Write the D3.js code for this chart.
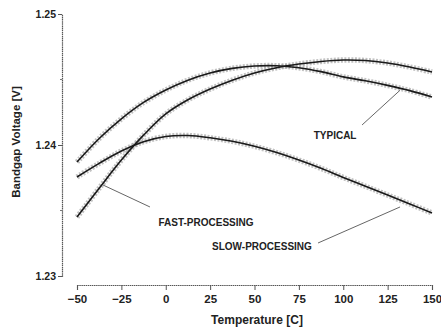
<!DOCTYPE html>
<html><head><meta charset="utf-8">
<script src="https://cdn.jsdelivr.net/npm/d3@7"></script>
<style>body{margin:0;background:#fff}svg{display:block}</style>
</head><body>
<svg id="c" width="441" height="330"></svg>
<script>
// ---- data ----
const temps = [-50, -37.5, -25, -12.5, 0, 12.5, 25, 37.5, 50, 62.5, 75, 87.5, 100, 112.5, 125, 137.5, 150];
const typical = [1.23870, 1.24050, 1.24200, 1.24325, 1.24420, 1.24495, 1.24550, 1.24585, 1.24603, 1.24605, 1.24590, 1.24560, 1.24520, 1.24490, 1.24455, 1.24415, 1.24366];
const fast    = [1.23450, 1.23670, 1.23885, 1.24075, 1.24237, 1.24345, 1.24427, 1.24495, 1.24550, 1.24590, 1.24618, 1.24638, 1.24649, 1.24645, 1.24626, 1.24595, 1.24557];
const slow    = [1.23756, 1.23860, 1.23954, 1.24025, 1.24065, 1.24072, 1.24055, 1.24028, 1.23990, 1.23942, 1.23885, 1.23822, 1.23752, 1.23685, 1.23618, 1.23550, 1.23481];
const xTicks = [-50, -25, 0, 25, 50, 75, 100, 125, 150];
const yTicks = [1.23, 1.24, 1.25];
const yMinor = [1.235, 1.245];
const labels = ["TYPICAL", "FAST-PROCESSING", "SLOW-PROCESSING"];
// annotation anchors in data units: [text T, text V, leader from T, V, leader tip T, V]
const annTypical = [95.4, 1.24076, 110.6, 1.24153, 132, 1.24418];
const annFast    = [22.7, 1.23412, -8.9, 1.23527, -35.4, 1.23695];
const annSlow    = [54.2, 1.23229, 85.8, 1.23252, 132, 1.23527];

// ---- chart ----
const svg = d3.select("#c");
const x = d3.scaleLinear().domain([-50, 150]).range([77, 432]);
const y = d3.scaleLinear().domain([1.23, 1.25]).range([276, 14]);
const font = "'Liberation Sans', Arial, sans-serif";

// y axis
const yAxisX = 62;
const gy = svg.append("g").attr("transform", `translate(${yAxisX},0)`)
  .call(d3.axisLeft(y).tickValues(yTicks).tickFormat(d3.format(".2f")).tickSize(4).tickPadding(2));
gy.select(".domain").attr("stroke", "#555").attr("stroke-width", 1.2).attr("stroke-dasharray", "1.5,0.6");
gy.selectAll(".tick line").attr("stroke", "#555");
gy.selectAll(".tick text").attr("font-family", font).attr("font-size", 10.5).attr("font-weight", "bold").attr("fill", "#222");
svg.append("g").selectAll("line").data(yMinor).join("line")
  .attr("x1", yAxisX - 2).attr("x2", yAxisX).attr("y1", d => y(d)).attr("y2", d => y(d))
  .attr("stroke", "#777");

// x axis
const xAxisY = 285;
const gx = svg.append("g").attr("transform", `translate(0,${xAxisY})`)
  .call(d3.axisBottom(x).tickValues(xTicks).tickFormat(d => d < 0 ? "\u2212" + Math.abs(d) : d).tickSize(5).tickPadding(5));
gx.select(".domain").attr("stroke", "#555").attr("stroke-width", 1.2).attr("stroke-dasharray", "1.5,0.6");
gx.selectAll(".tick line").attr("stroke", "#555");
gx.selectAll(".tick text").attr("font-family", font).attr("font-size", 11.5).attr("font-weight", "bold").attr("fill", "#222");

// titles
svg.append("text").attr("x", 257).attr("y", 324).attr("text-anchor", "middle")
  .attr("font-family", font).attr("font-size", 12).attr("font-weight", "bold").attr("fill", "#222")
  .text("Temperature [C]");
svg.append("text").attr("transform", "translate(20,142) rotate(-90)").attr("text-anchor", "middle")
  .attr("font-family", font).attr("font-size", 11.5).attr("font-weight", "bold").attr("fill", "#222")
  .text("Bandgap Voltage [V]");

// curves
const series = [typical, fast, slow];
const line = d3.line().x((d, i) => x(temps[i])).y(d => y(d)).curve(d3.curveCatmullRom);
// grey hatched bands
svg.append("g").selectAll("path").data(series).join("path")
  .attr("d", line).attr("fill", "none").attr("stroke", "#999").attr("stroke-width", 5.5)
  .attr("stroke-dasharray", "2,1.5").attr("opacity", 0.6);
svg.append("g").selectAll("path").data(series).join("path")
  .attr("d", line).attr("fill", "none").attr("stroke", "#1a1a1a").attr("stroke-width", 1.6);

// annotations
const anns = [annTypical, annFast, annSlow];
svg.append("g").selectAll("line").data(anns).join("line")
  .attr("x1", d => x(d[2])).attr("y1", d => y(d[3])).attr("x2", d => x(d[4])).attr("y2", d => y(d[5]))
  .attr("stroke", "#666").attr("stroke-width", 1);
svg.append("g").selectAll("text").data(anns).join("text")
  .attr("x", d => x(d[0])).attr("y", d => y(d[1])).attr("dy", "0.35em").attr("text-anchor", "middle")
  .attr("font-family", font).attr("font-size", 10).attr("font-weight", "bold").attr("fill", "#222")
  .text((d, i) => labels[i]);
</script>
</body></html>
